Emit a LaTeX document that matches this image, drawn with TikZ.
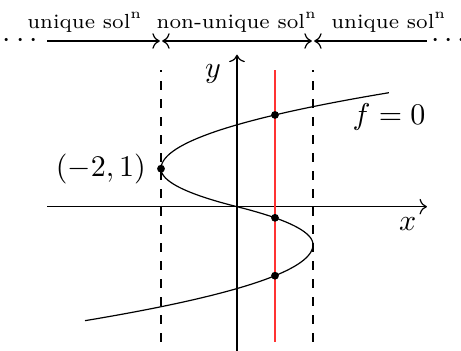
\documentclass[tikz,border=0pt]{standalone}
\usepackage{amsmath,amssymb}
\usepackage{tikz}
\usetikzlibrary{arrows.meta, positioning, calc}

\begin{document}
\begin{tikzpicture}[
  x=0.445cm, y=0.445cm,
  axis/.style={->},
  bound/.style={dashed},
  probe/.style={red!80},
  curve/.style={black},
  dot/.style={circle, fill=black, inner sep=0pt, minimum size=2.6pt},
  region/.style={font=\fontsize{6.8pt}{8pt}\selectfont, above, inner sep=2.8pt},
  lbl/.style={inner sep=3.33pt},
  dotsl/.style={inner sep=1.2pt}
]
\useasboundingbox (-6.237,-3.797) rectangle (5.895,5.439);

\def\yT{4.36}

% regions along the top
\coordinate (t-l)  at (-5,\yT);
\coordinate (t-a1) at (-2.03,\yT);
\coordinate (t-a2) at (-1.97,\yT);
\coordinate (t-b1) at (1.97,\yT);
\coordinate (t-b2) at (2.03,\yT);
\coordinate (t-r)  at (5,\yT);

\node[dotsl, left]  (dots-l) at (t-l) {$\cdots$};
\node[dotsl, right] (dots-r) at (t-r) {$\cdots$};

\draw[->]  (t-l) -- (t-a1);
\draw[<->] (t-a2) -- (t-b1);
\draw[<-]  (t-b2) -- (t-r);

\node[region] (reg-l) at (-4,\yT) {unique sol\textsuperscript{n}};
\node[region] (reg-m) at (0,\yT)  {non-unique sol\textsuperscript{n}};
\node[region] (reg-r) at (4,\yT)  {unique sol\textsuperscript{n}};

% axes
\coordinate (x-start) at (-5,0);
\coordinate (x-end)   at (5,0);
\coordinate (y-start) at (0,-3.8);
\coordinate (y-end)   at (0,4);

\draw[axis] (x-start) -- (x-end);
\draw[axis] (y-start) -- (y-end);
\node[lbl, below left] (x-lab) at (x-end) {$x$};
\node (y-lab) at (-0.63,3.5) {$y$};

% dashed bounds and probe line
\coordinate (bl-bot) at (-2,-3.56);
\coordinate (bl-top) at (-2,3.6);
\coordinate (br-bot) at (2,-3.56);
\coordinate (br-top) at (2,3.6);
\coordinate (pr-bot) at (1,-3.56);
\coordinate (pr-top) at (1,3.6);

\draw[bound] (bl-bot) -- (bl-top);
\draw[bound] (br-bot) -- (br-top);
\draw[probe] (pr-bot) -- (pr-top);

% the curve f=0
\draw[curve] plot[domain=-3:-1, samples=40, smooth] ({2-1.5*(\x+1)^2},\x)
  -- plot[domain=-1:0, samples=30, smooth] ({2-2*(\x+1)^2},\x)
  -- plot[domain=0:1, samples=30, smooth] ({-2+2*(\x-1)^2},\x)
  -- plot[domain=1:3, samples=40, smooth] ({-2+1.5*(\x-1)^2},\x);

\node[lbl, below] (f-lab) at (4,3) {$f=0$};

% points
\node[dot] (p-vert) at (-2,1) {};
\node[dot] (p-top)  at (1,2.4142) {};
\node[dot] (p-mid)  at (1,-0.2929) {};
\node[dot] (p-bot)  at (1,-1.8165) {};

\node[lbl, left] (v-lab) at (p-vert.west) {$(-2,1)$};

\end{tikzpicture}
\end{document}
